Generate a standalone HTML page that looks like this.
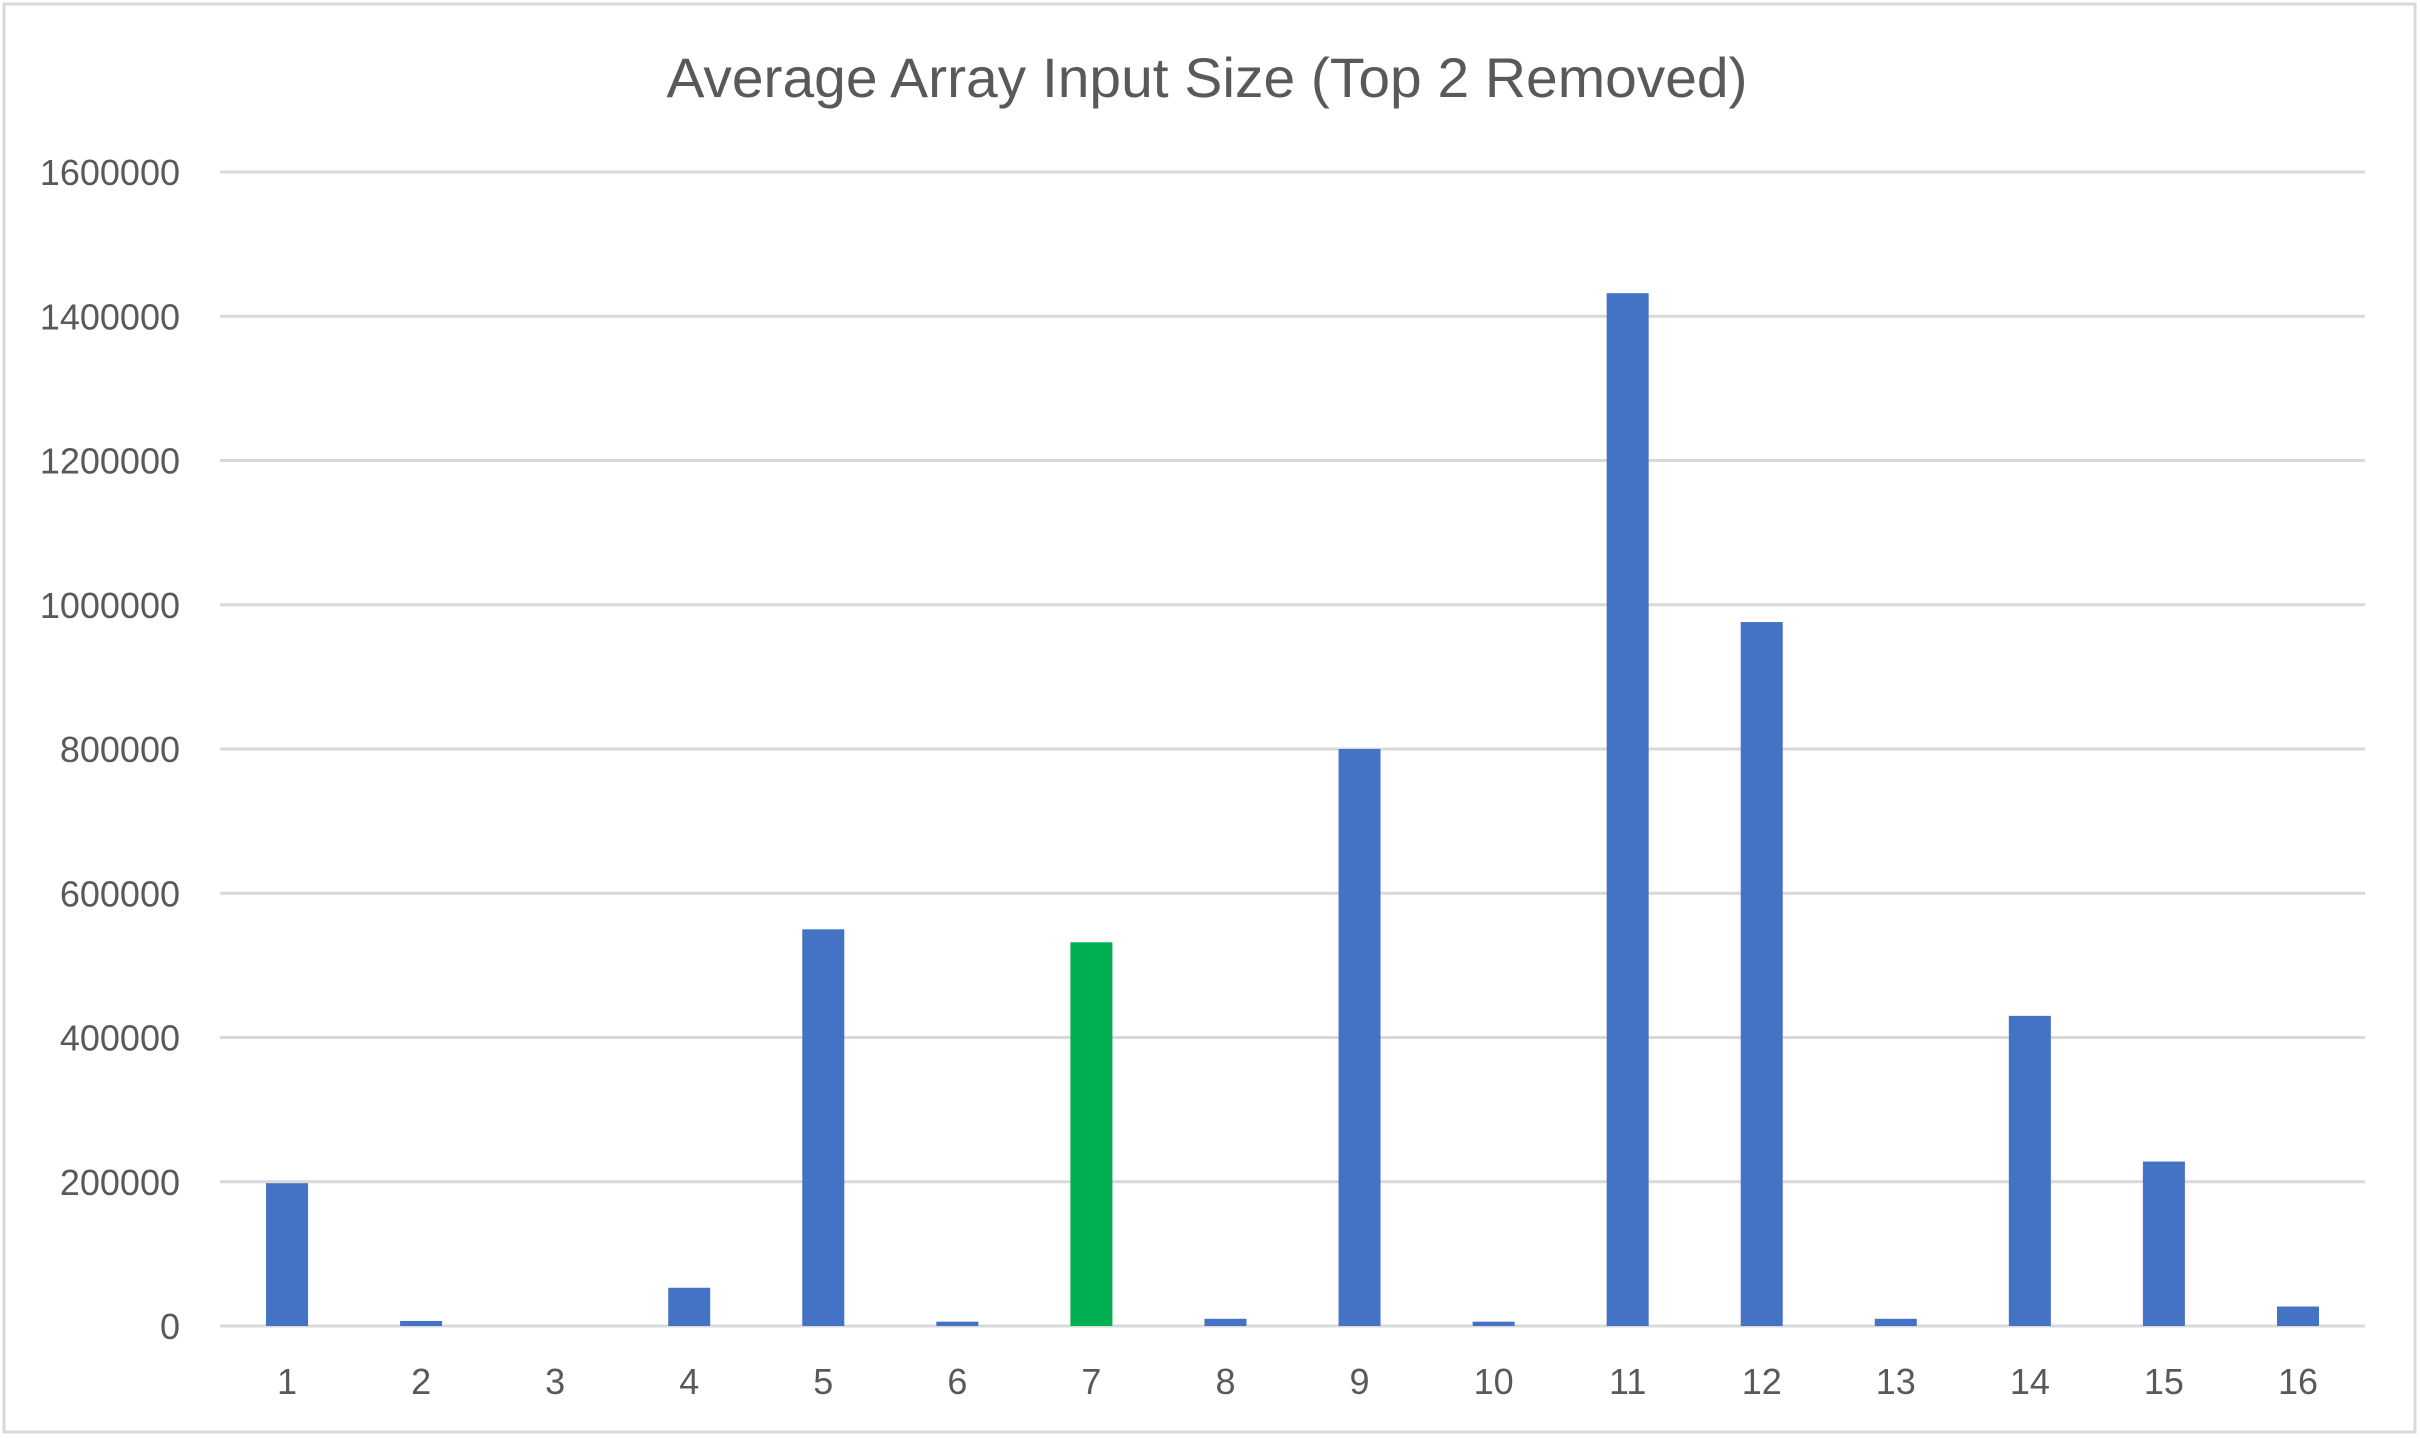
<!DOCTYPE html>
<html><head><meta charset="utf-8"><style>body{margin:0;background:#fff}svg{display:block}</style></head>
<body>
<svg id="chart" width="2420" height="1439" xmlns="http://www.w3.org/2000/svg" font-family="'Liberation Sans', sans-serif">
<rect x="4" y="4" width="2411" height="1428" fill="#fff" stroke="#d9d9d9" stroke-width="3"/>
<text x="1207" y="97" text-anchor="middle" font-size="56" fill="#595959" textLength="1081" lengthAdjust="spacingAndGlyphs">Average Array Input Size (Top 2 Removed)</text>
<g id="grid"></g><g id="bars"></g><g id="labels"></g>
</svg>
<script>
const categories = ["1","2","3","4","5","6","7","8","9","10","11","12","13","14","15","16"];
const values = [198000,7000,0,53000,550000,6000,532000,10000,800000,6000,1432000,976000,10000,430000,228000,27000];
const highlight = [false,false,false,false,false,false,true,false,false,false,false,false,false,false,false,false];
const yTicks = [0,200000,400000,600000,800000,1000000,1200000,1400000,1600000];

const NS="http://www.w3.org/2000/svg";
const x0=220,x1=2365,yTop=172,yBot=1326,yMax=1600000;
const band=(x1-x0)/categories.length, barW=42;
const yS=v=>yBot-(v/yMax)*(yBot-yTop);
const xC=i=>x0+band*(i+0.5);
const grid=document.getElementById('grid'),bars=document.getElementById('bars'),labels=document.getElementById('labels');
function mk(t,a){const e=document.createElementNS(NS,t);for(const k in a)e.setAttribute(k,a[k]);return e;}
yTicks.forEach(v=>{
  const l=mk('line',{x1:x0,x2:x1,y1:yS(v),y2:yS(v),stroke:'#d9d9d9','stroke-width':3});
  
  
  grid.appendChild(l);
  const t=mk('text',{x:180,y:yS(v)+13,'text-anchor':'end','font-size':36,fill:'#595959'});
  t.textContent=String(v);
  
  
  labels.appendChild(t);
});
categories.forEach((c,i)=>{
  const v=values[i];
  const r=mk('rect',{x:xC(i)-barW/2,y:yS(v),width:barW,height:yBot-yS(v),fill:highlight[i]?'#00b050':'#4472c4'});
  
  
  bars.appendChild(r);
  const t=mk('text',{x:xC(i),y:1394,'text-anchor':'middle','font-size':36,fill:'#595959'});
  t.textContent=c;
  
  
  labels.appendChild(t);
});
</script>
</body></html>
